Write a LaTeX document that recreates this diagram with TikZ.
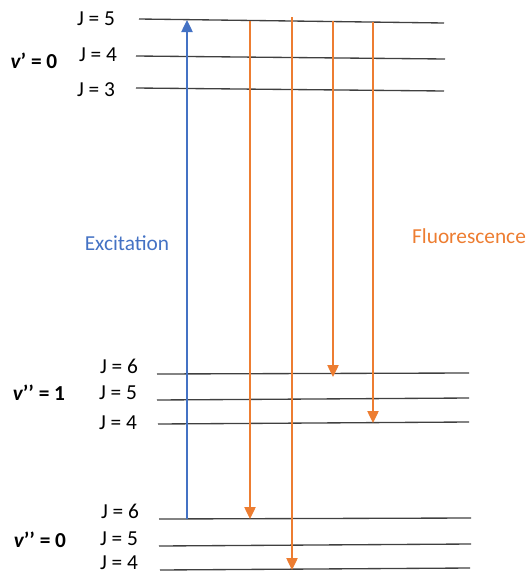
\documentclass[tikz,border=0pt]{standalone}
\usepackage{fontspec}
\setmainfont{Carlito}
\usetikzlibrary{arrows.meta}
\definecolor{exblue}{HTML}{4472C4}
\definecolor{fluor}{HTML}{ED7D31}
\tikzset{
  level/.style={draw=black!75, line width=1pt},
  jlab/.style={font=\fontsize{16}{19}\selectfont, inner sep=0pt},
  vlab/.style={font=\fontsize{16}{19}\selectfont\bfseries, inner sep=0pt},
  excite/.style={draw=exblue, line width=1pt, -{Triangle[width=8.5pt,length=9pt]}},
  emit/.style={draw=fluor, line width=1pt, -{Triangle[width=8.5pt,length=9pt]}},
}
\begin{document}
\begin{tikzpicture}[x=0.75pt,y=-0.75pt]
\useasboundingbox (0,0) rectangle (529,575);
% upper levels v'=0
\coordinate (u5a) at (139,19); \coordinate (u5b) at (444,23);
\coordinate (u4a) at (136,56); \coordinate (u4b) at (445,59);
\coordinate (u3a) at (136,88); \coordinate (u3b) at (444,91);
% v''=1
\coordinate (m6a) at (157,374); \coordinate (m6b) at (469,373);
\coordinate (m5a) at (157,400); \coordinate (m5b) at (469,398);
\coordinate (m4a) at (158,424); \coordinate (m4b) at (469,422);
% v''=0
\coordinate (l6a) at (159,519); \coordinate (l6b) at (471,518);
\coordinate (l5a) at (159,546); \coordinate (l5b) at (471,544);
\coordinate (l4a) at (160,570); \coordinate (l4b) at (470,568);
\foreach \n in {u5,u4,u3,m6,m5,m4,l6,l5,l4}{\draw[level] (\n a) -- (\n b);}
% labels
\node[jlab] (tu5) at (96,19) {J = 5};
\node[jlab] (tu4) at (98,55) {J = 4};
\node[jlab] (tu3) at (96,90) {J = 3};
\node[vlab] (vu) at (34,61) {\itshape v\upshape’ = 0};
\node[jlab] (tm6) at (119,366) {J = 6};
\node[jlab] (tm5) at (118,393) {J = 5};
\node[jlab] (tm4) at (118,423) {J = 4};
\node[vlab] (vm) at (39,393) {\itshape v\upshape’’ = 1};
\node[jlab] (tl6) at (120,511) {J = 6};
\node[jlab] (tl5) at (119,539) {J = 5};
\node[jlab] (tl4) at (119,563) {J = 4};
\node[vlab] (vl) at (40,540) {\itshape v\upshape’’ = 0};
\node[jlab, text=exblue] (exc) at (127,243) {Excitation};
\node[jlab, text=fluor] (flu) at (469,236) {Fluorescence};
% arrows
\coordinate (bs) at (187,519); \coordinate (be) at (187,20);
\draw[excite] (bs) -- (be);
\coordinate (o1s) at (250,21); \coordinate (o1e) at (250,519);
\coordinate (o2s) at (292,17); \coordinate (o2e) at (292,570);
\coordinate (o3s) at (333,21); \coordinate (o3e) at (333,377);
\coordinate (o4s) at (373,22); \coordinate (o4e) at (373,423);
\draw[emit] (o1s) -- (o1e);
\draw[emit] (o2s) -- (o2e);
\draw[emit] (o3s) -- (o3e);
\draw[emit] (o4s) -- (o4e);
\end{tikzpicture}
\end{document}
